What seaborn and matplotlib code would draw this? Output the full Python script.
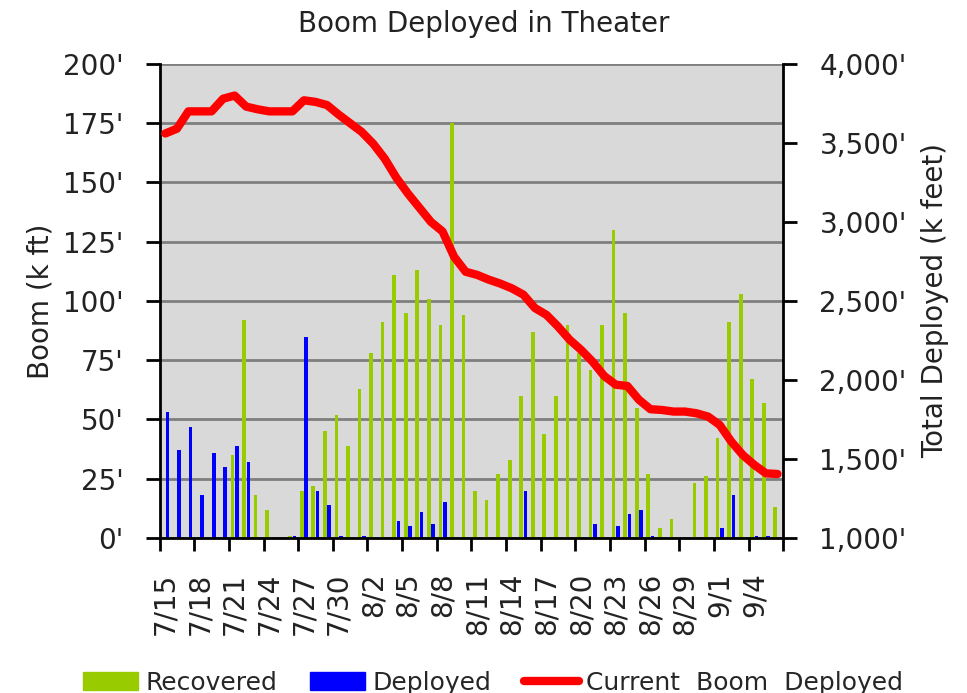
import numpy as np
import pandas as pd
import matplotlib
matplotlib.use("Agg")
import matplotlib.pyplot as plt
from matplotlib.patches import Patch
from matplotlib.lines import Line2D
import seaborn as sns

# daily categories 7/15 .. 9/6
dates = [f"{d.month}/{d.day}" for d in pd.date_range("2010-07-15", "2010-09-06")]

recovered = [0, 0, 0, 0, 0, 0, 35, 92, 18, 12, 0, 1, 20, 22, 45, 52, 39, 63,
             78, 91, 111, 95, 113, 101, 90, 175, 94, 20, 16, 27, 33, 60, 87, 44,
             60, 90, 78, 71, 90, 130, 95, 55, 27, 4, 8, 0, 23, 26, 42, 91, 103,
             67, 57, 13]
deployed = [53, 37, 47, 18, 36, 30, 39, 32, 0, 0, 0, 1, 85, 20, 14, 1, 0, 1,
            0, 0, 7, 5, 11, 6, 15, 0, 0, 0, 0, 0, 0, 20, 0, 0, 0, 0, 0, 6, 0,
            5, 10, 12, 1, 0, 0, 0, 0, 0, 4, 18, 0, 1, 1, 0]
current_total = [3560, 3590, 3700, 3700, 3700, 3780, 3800, 3730, 3713, 3700,
                 3700, 3700, 3770, 3760, 3740, 3680, 3625, 3570, 3495, 3400,
                 3280, 3180, 3090, 3000, 2940, 2780, 2685, 2665, 2635, 2610,
                 2580, 2540, 2455, 2412, 2338, 2255, 2190, 2115, 2025, 1970,
                 1962, 1875, 1815, 1810, 1800, 1800, 1789, 1768, 1715, 1610,
                 1525, 1462, 1409, 1405]

left_ticks = [0, 25, 50, 75, 100, 125, 150, 175, 200]
right_ticks = [1000, 1500, 2000, 2500, 3000, 3500, 4000]

green = "#99cc00"
blue = "#0000ff"
red = "#ff0000"

df = pd.DataFrame({
    "date": dates * 2,
    "value": recovered + deployed,
    "series": ["Recovered"] * len(dates) + ["Deployed"] * len(dates),
})

sns.set_style("white")
plt.rcParams["font.family"] = ["DejaVu Sans"]

fig = plt.figure(figsize=(9.67, 6.93), dpi=100)
ax = fig.add_axes([0.165, 0.2237, 0.645, 0.684])
ax.set_facecolor("#d9d9d9")

sns.barplot(data=df, x="date", y="value", hue="series",
            hue_order=["Recovered", "Deployed"], palette=[green, blue],
            width=0.75, gap=0.15, saturation=1, linewidth=0,
            ax=ax, legend=False)

ax.set_ylim(0, 200)
ax.set_yticks(left_ticks)
ax.set_yticklabels([f"{t}'" for t in left_ticks], fontsize=20, color="#222222")
ax.yaxis.grid(True, color="#7f7f7f", linewidth=2)
ax.set_axisbelow(True)
ax.set_xlabel("")
ax.set_ylabel("Boom (k ft)", fontsize=20, color="#222222", labelpad=6)

# ticks between categories, labels every 3rd day
n = len(dates)
ax.set_xticks(np.arange(-0.5, n, 3))
ax.set_xticklabels([])
ax.set_xticks(np.arange(0, n, 3), minor=True)
ax.set_xticklabels(dates[::3], minor=True, rotation=90, fontsize=20,
                   color="#222222")
ax.tick_params(axis="x", which="major", direction="out", length=9, width=2,
               color="black", bottom=True)
ax.tick_params(axis="x", which="minor", length=0, pad=25)
ax.tick_params(axis="y", direction="out", length=10, width=2, color="black",
               left=True, pad=16)

for side in ["top", "right"]:
    ax.spines[side].set_visible(False)
for side in ["left", "bottom"]:
    ax.spines[side].set_color("black")
    ax.spines[side].set_linewidth(2)

ax2 = ax.twinx()
sns.lineplot(x=np.arange(n), y=current_total, ax=ax2, color=red,
             linewidth=6, solid_capstyle="round", solid_joinstyle="round")
ax2.set_ylim(1000, 4000)
ax2.set_yticks(right_ticks)
ax2.set_yticklabels([f"{t:,}'" for t in right_ticks], fontsize=20,
                    color="#222222")
ax2.set_ylabel("Total Deployed (k feet)", fontsize=20, color="#222222",
               labelpad=10)
ax2.tick_params(axis="y", direction="out", length=10, width=2, color="black",
                right=True, pad=16)
for side in ["top", "left", "bottom"]:
    ax2.spines[side].set_visible(False)
ax2.spines["right"].set_color("black")
ax2.spines["right"].set_linewidth(2)
ax.set_xlim(-0.5, n - 0.5)

fig.suptitle("Boom Deployed in Theater", fontsize=20, color="#222222",
             y=0.985)

handles = [Patch(color=green), Patch(color=blue),
           Line2D([], [], color=red, linewidth=6, solid_capstyle="round")]
fig.legend(handles, ["Recovered", "Deployed", "Current  Boom  Deployed"],
           loc="lower center", bbox_to_anchor=(0.51, -0.035), ncol=3,
           frameon=False, fontsize=18, handlelength=2.2, handleheight=0.75,
           columnspacing=1.3, handletextpad=0.3)

fig.savefig("out.png", dpi=100)
